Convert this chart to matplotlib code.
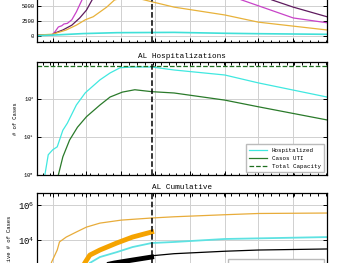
import matplotlib
matplotlib.use('Agg')
import matplotlib.pyplot as plt
import matplotlib.dates as mdates
import matplotlib.ticker as mticker
import pandas as pd

plt.rcParams['font.family'] = ['Liberation Mono', 'DejaVu Sans']

# painel de cima: casos ativos
mag_dates = ['2020-03-18', '2020-03-31', '2020-04-03', '2020-04-06', '2020-04-09', '2020-04-11',
             '2020-04-14', '2020-04-18', '2020-04-22', '2020-04-27', '2020-05-20', '2020-06-20',
             '2020-07-25', '2020-09-16', '2020-11-01', '2020-12-01']
mag_vals = [150, 150, 700, 1500, 1700, 2000, 2100, 2700, 4000, 6000, 11000, 13000,
            10000, 6000, 3000, 2200]

pur_dates = ['2020-03-18', '2020-04-01', '2020-04-03', '2020-04-10', '2020-04-18', '2020-04-25',
             '2020-05-01', '2020-05-06', '2020-06-01', '2020-07-10', '2020-08-20', '2020-10-13',
             '2020-11-01', '2020-12-01']
pur_vals = [150, 170, 500, 1000, 1800, 3000, 4300, 6000, 11000, 14000, 11000, 6000, 4800, 3200]

ora_dates = ['2020-03-18', '2020-04-01', '2020-04-13', '2020-04-22', '2020-04-30', '2020-05-07',
             '2020-05-13', '2020-05-19', '2020-05-26', '2020-06-04', '2020-06-15', '2020-06-28',
             '2020-07-18', '2020-09-01', '2020-10-01', '2020-12-01']
ora_vals = [150, 300, 1000, 1800, 2700, 3200, 4000, 4800, 6000, 6400, 6300, 5700,
            4800, 3500, 2300, 1000]

cya_dates = ['2020-03-18', '2020-04-01', '2020-04-28', '2020-05-28', '2020-06-28', '2020-07-18',
             '2020-09-01', '2020-10-01', '2020-12-01']
cya_vals = [50, 150, 400, 550, 580, 600, 450, 380, 280]

# hospitalizacoes
hosp_dates = ['2020-03-25', '2020-03-28', '2020-04-01', '2020-04-05', '2020-04-10', '2020-04-14',
              '2020-04-22', '2020-04-30', '2020-05-13', '2020-05-22', '2020-05-31', '2020-06-11',
              '2020-06-28', '2020-07-18', '2020-09-01', '2020-10-01', '2020-12-01']
hosp_vals = [1, 3.4, 4.6, 5.5, 15, 23, 69, 145, 316, 480, 660, 690, 690, 575, 425, 263, 112]

uti_dates = ['2020-04-06', '2020-04-10', '2020-04-16', '2020-04-23', '2020-05-01', '2020-05-13',
             '2020-05-22', '2020-06-02', '2020-06-13', '2020-06-28', '2020-07-18', '2020-09-01',
             '2020-10-01', '2020-12-01']
uti_vals = [1, 3, 8.3, 18, 34, 69, 112, 151, 174, 155, 143, 93, 62, 28]

capacity = 720

# acumulados
cum_ora_dates = ['2020-03-25', '2020-03-31', '2020-04-05', '2020-04-07', '2020-04-13', '2020-04-22',
                 '2020-05-01', '2020-05-13', '2020-06-01', '2020-06-28', '2020-07-18', '2020-09-01',
                 '2020-10-01', '2020-12-01']
cum_ora_vals = [30, 550, 2700, 7800, 14800, 28800, 55000, 93000, 138000, 182000, 214000,
                280000, 330000, 350000]

obs_ora_dates = ['2020-04-25', '2020-04-30', '2020-05-04', '2020-05-13', '2020-05-28',
                 '2020-06-11', '2020-06-28']
obs_ora_vals = [150, 550, 1380, 2700, 6800, 14800, 28800]

cum_cya_dates = ['2020-04-10', '2020-04-25', '2020-05-04', '2020-05-13', '2020-05-28',
                 '2020-06-11', '2020-06-28', '2020-07-18', '2020-09-01', '2020-12-01']
cum_cya_vals = [10, 100, 490, 1070, 2040, 3980, 6760, 7760, 11500, 14800]

cum_blk_dates = ['2020-04-20', '2020-05-20', '2020-06-28', '2020-07-18', '2020-09-01',
                 '2020-10-01', '2020-12-01']
cum_blk_vals = [20, 300, 1260, 1660, 2290, 2690, 3090]

obs_blk_dates = ['2020-05-10', '2020-05-26', '2020-06-11', '2020-06-28']
obs_blk_vals = [300, 490, 720, 1070]

today = '2020-06-28'
x_start, x_end = '2020-03-18', '2020-12-01'

d = pd.to_datetime

fig = plt.figure(figsize=(3.5, 2.63), dpi=100)
L, W, H = 0.1057, 0.8286, 0.4297
ax1 = fig.add_axes([L, 0.8403, W, H])
ax2 = fig.add_axes([L, 0.3346, W, H])
ax3 = fig.add_axes([L, -0.1635, W, H])

ax1.plot(d(mag_dates), mag_vals, color='#c843c8', lw=0.9)
ax1.plot(d(pur_dates), pur_vals, color='#5e1a5e', lw=0.9)
ax1.plot(d(ora_dates), ora_vals, color='#e8b23a', lw=0.9)
ax1.plot(d(cya_dates), cya_vals, color='#40e0d8', lw=1.2)
ax1.set_ylim(-1000, 17800)
ax1.set_yticks([0, 2500, 5000, 7500, 10000, 12500, 15000])

ax2.plot(d(hosp_dates), hosp_vals, color='#40e8e0', lw=0.9, label='Hospitalized')
ax2.plot(d(uti_dates), uti_vals, color='#2a7a2a', lw=0.9, label='Casos UTI')
ax2.axhline(capacity, color='#1f6f1f', ls='--', lw=0.9, label='Total Capacity')
ax2.set_yscale('log')
ax2.set_ylim(1, 10 ** 2.97)
ax2.set_title('AL Hospitalizations', fontsize=5.5, pad=3)
ax2.set_ylabel('# of Cases', fontsize=4)
ax2.legend(loc='lower right', fontsize=4.2, handlelength=3, framealpha=1,
           fancybox=False, edgecolor='#bbbbbb', borderpad=0.6)

ax3.plot(d(cum_ora_dates), cum_ora_vals, color='#e8ac3a', lw=0.9, label='Total Cases (model)')
ax3.plot(d(obs_ora_dates), obs_ora_vals, color='#f5a300', lw=3.5, label='Reported Cases')
ax3.plot(d(cum_cya_dates), cum_cya_vals, color='#5ee2e2', lw=1.3, label='Hospitalized')
ax3.plot(d(cum_blk_dates), cum_blk_vals, color='black', lw=0.9, label='Deaths (model)')
ax3.plot(d(obs_blk_dates), obs_blk_vals, color='black', lw=3.5, label='Reported Deaths')
ax3.set_yscale('log')
ax3.set_ylim(10 ** 0.23, 10 ** 6.69)
ax3.set_yticks([1e2, 1e4, 1e6])
ax3.set_title('AL Cumulative', fontsize=5.5, pad=3)
ax3.set_ylabel('Cumulative # of Cases', fontsize=4)
ax3.legend(loc='lower right', fontsize=4.2, handlelength=3, framealpha=1,
           fancybox=False, edgecolor='#bbbbbb', borderpad=0.6)

for ax in (ax1, ax2, ax3):
    ax.axvline(d(today), color='black', ls='--', lw=1.1)
    ax.set_xlim(d(x_start), d(x_end))
    ax.xaxis.set_major_locator(mdates.MonthLocator())
    ax.xaxis.set_minor_locator(mdates.WeekdayLocator(byweekday=mdates.MO))
    ax.yaxis.set_minor_locator(mticker.NullLocator())
    ax.grid(True, which='major', color='#d0d0d0', lw=0.7)
    ax.tick_params(which='both', direction='in', top=True, right=True, labelbottom=False,
                   width=0.7)
    ax.tick_params(which='major', length=3)
    ax.tick_params(which='minor', length=1.8)
    ax.tick_params(axis='y', labelsize=4, pad=2)
    for s in ax.spines.values():
        s.set_linewidth(0.9)

ax3.tick_params(axis='y', labelsize=6.5)

fig.savefig('out.png', dpi=100)
